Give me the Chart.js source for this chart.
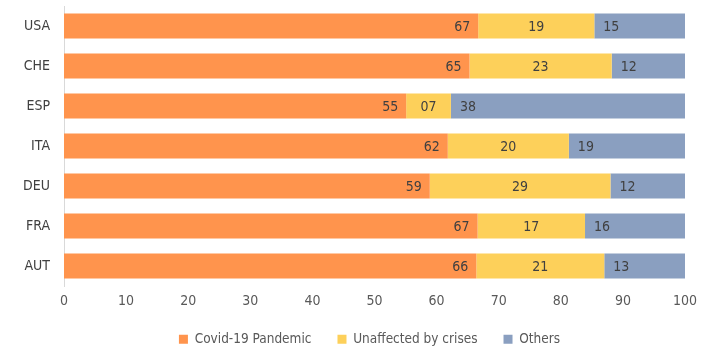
<!DOCTYPE html>
<html>
<head>
<meta charset="utf-8">
<script src="https://cdn.jsdelivr.net/npm/chart.js@4"></script>
<style>
html,body{margin:0;padding:0;background:#fff;}
#wrap{width:724px;height:360px;}
</style>
</head>
<body>
<div id="wrap"><canvas id="c" width="724" height="360"></canvas></div>
<script>
const categories = ["USA", "CHE", "ESP", "ITA", "DEU", "FRA", "AUT"];
const covid = [66.7, 65.3, 55.1, 61.8, 58.9, 66.6, 66.4];
const unaffected = [18.7, 22.9, 7.2, 19.5, 29.1, 17.3, 20.6];
const others = [14.6, 11.8, 37.7, 18.7, 12.0, 16.1, 13.0];
const seriesNames = ["Covid-19 Pandemic", "Unaffected by crises", "Others"];
const xTicks = [0, 10, 20, 30, 40, 50, 60, 70, 80, 90, 100];

const FONT = "'Liberation Sans Narrow', 'DejaVu Sans Condensed', 'Liberation Sans', sans-serif";

const labelPlugin = {
  id: 'segLabels',
  afterDatasetsDraw(chart) {
    const ctx = chart.ctx;
    ctx.save();
    ctx.font = "14px " + FONT;
    ctx.fillStyle = "#404040";
    ctx.textBaseline = "middle";
    chart.data.datasets.forEach((ds, di) => {
      const meta = chart.getDatasetMeta(di);
      meta.data.forEach((bar, i) => {
        const v = ds.data[i];
        const txt = String(Math.round(v)).padStart(2, "0");
        const left = Math.min(bar.x, bar.base), right = Math.max(bar.x, bar.base);
        if (di === 0) { ctx.textAlign = "right"; ctx.fillText(txt, right - 8, bar.y + 1); }
        else if (di === 1) { ctx.textAlign = "center"; ctx.fillText(txt, (left + right) / 2, bar.y + 1); }
        else { ctx.textAlign = "left"; ctx.fillText(txt, left + 9, bar.y + 1); }
      });
    });
    ctx.restore();
  }
};

const legendShift = {
  id: 'legendShift',
  afterLayout(chart) {
    if (chart.legend) { chart.legend.left += 27; chart.legend.right += 27; }
  }
};

new Chart(document.getElementById('c'), {
  type: 'bar',
  data: {
    labels: categories,
    datasets: [
      { label: seriesNames[0], data: covid, backgroundColor: "#FF944D" },
      { label: seriesNames[1], data: unaffected, backgroundColor: "#FDD05A" },
      { label: seriesNames[2], data: others, backgroundColor: "#8A9FC0" }
    ]
  },
  options: {
    indexAxis: 'y',
    responsive: false,
    animation: false,
    datasets: { bar: { categoryPercentage: 1.0, barPercentage: 0.63 } },
    layout: { padding: { top: 6, right: 39, left: 0, bottom: 4 } },
    scales: {
      x: {
        stacked: true, min: 0, max: 100,
        afterBuildTicks(s) { s.ticks = xTicks.map(v => ({ value: v })); },
        grid: { display: false, drawTicks: false },
        border: { display: false },
        ticks: { color: "#595959", font: { family: FONT, size: 14 }, padding: 7 },
        afterFit(s) { s.height = 20.5; }
      },
      y: {
        stacked: true,
        grid: { display: false, drawTicks: true, tickLength: 14 },
        border: { display: true, color: "#D9D9D9", width: 1 },
        ticks: { color: "#404040", font: { family: FONT, size: 14 }, padding: 0 },
        afterFit(s) { s.width = 64; s.paddingTop = 0; s.paddingBottom = 0; }
      }
    },
    plugins: {
      legend: {
        position: 'bottom',
        labels: {
          boxWidth: 9, boxHeight: 9, padding: 26,
          color: "#595959", font: { family: FONT, size: 13.5 }
        }
      },
      tooltip: { enabled: false }
    }
  },
  plugins: [labelPlugin, legendShift]
});
</script>
</body>
</html>
